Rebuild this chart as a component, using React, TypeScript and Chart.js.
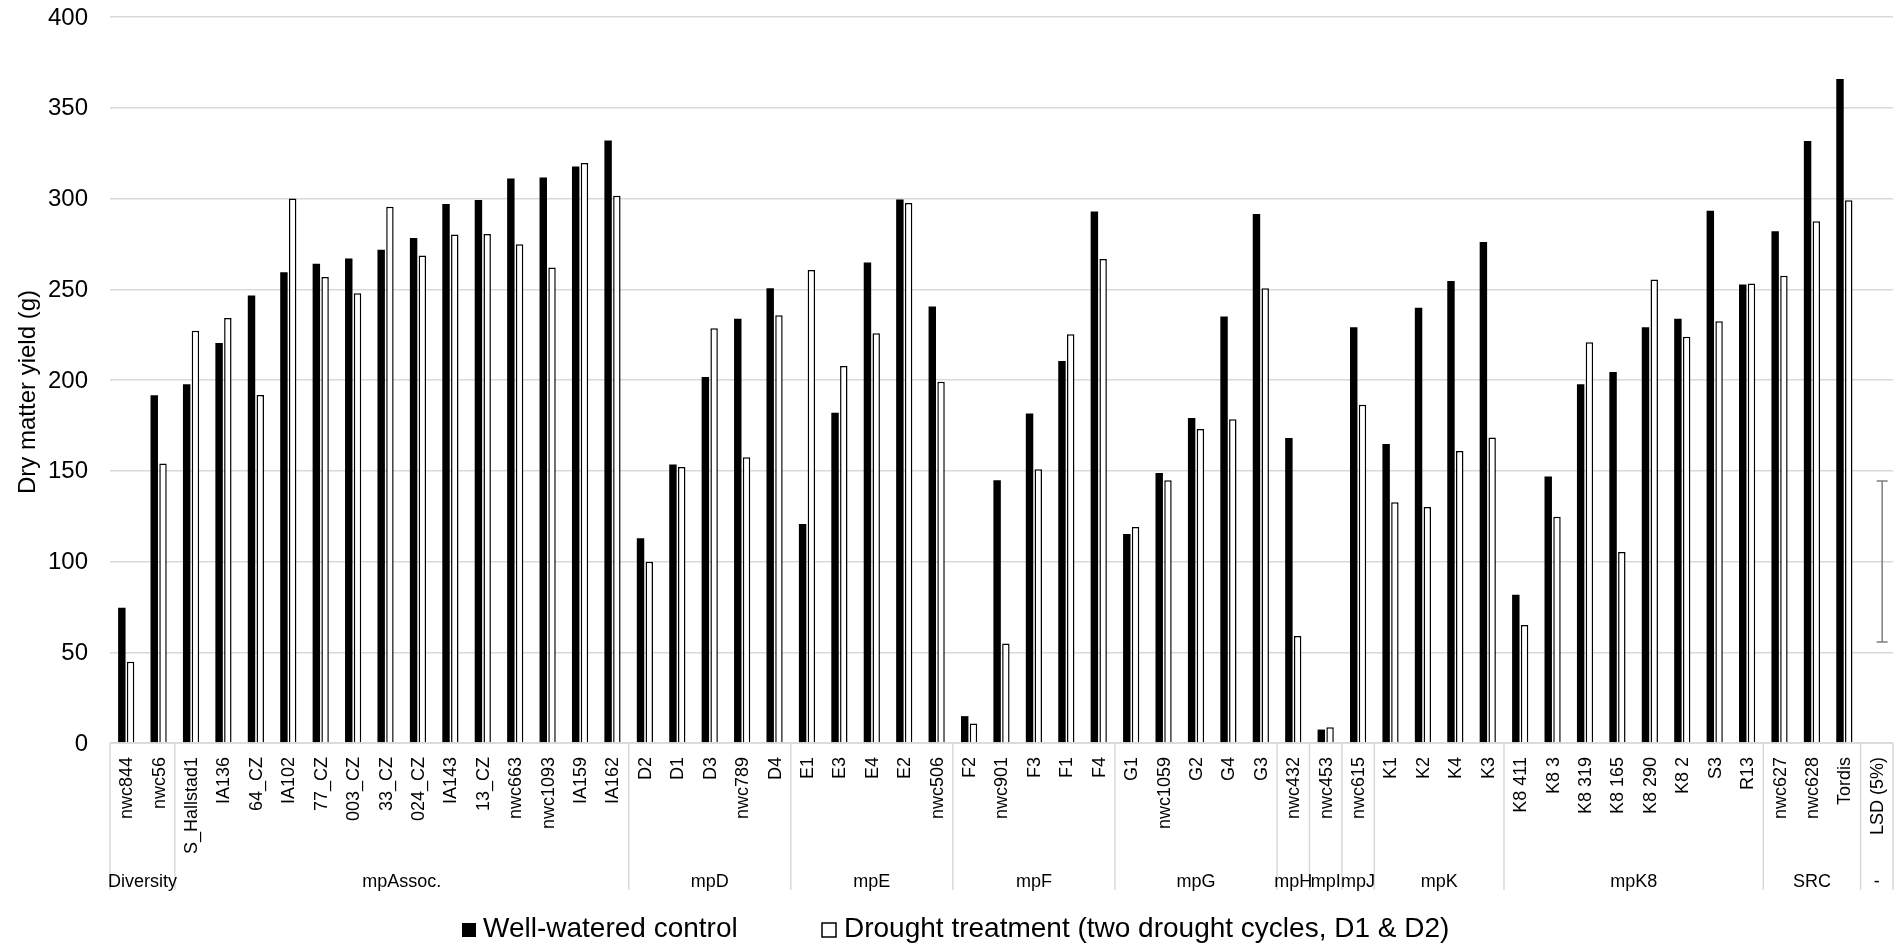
import React, { useEffect, useRef } from "react";
import { Chart, registerables } from "chart.js";

Chart.register(...registerables);

const categories = [
  "nwc844", "nwc56",
  "S_Hallstad1", "IA136", "64_CZ", "IA102", "77_CZ", "003_CZ", "33_CZ", "024_CZ", "IA143", "13_CZ", "nwc663", "nwc1093", "IA159", "IA162",
  "D2", "D1", "D3", "nwc789", "D4",
  "E1", "E3", "E4", "E2", "nwc506",
  "F2", "nwc901", "F3", "F1", "F4",
  "G1", "nwc1059", "G2", "G4", "G3",
  "nwc432",
  "nwc453",
  "nwc615",
  "K1", "K2", "K4", "K3",
  "K8 411", "K8 3", "K8 319", "K8 165", "K8 290", "K8 2", "S3", "R13",
  "nwc627", "nwc628", "Tordis",
  "LSD (5%)",
];

const groupNames = ["Diversity", "mpAssoc.", "mpD", "mpE", "mpF", "mpG", "mpH", "mpI", "mpJ", "mpK", "mpK8", "SRC", "-"];
const groupSizes = [2, 14, 5, 5, 5, 5, 1, 1, 1, 4, 8, 3, 1];

const wellWatered = [
  74.5, 191.6,
  197.7, 220.4, 246.6, 259.3, 264, 267, 271.8, 278.2, 297, 299.2, 311, 311.6, 317.6, 332,
  112.8, 153.4, 201.7, 233.8, 250.6,
  120.6, 182, 264.8, 299.5, 240.5,
  14.8, 144.8, 181.6, 210.4, 292.9,
  115.2, 148.8, 179, 235, 291.5,
  168,
  7.4,
  229,
  164.8, 239.8, 254.6, 276,
  81.7, 146.8, 197.6, 204.4, 229, 233.8, 293.3, 252.6,
  282, 331.7, 365.8,
  null,
];

const drought = [
  44.8, 154,
  227.2, 234.2, 191.8, 300, 256.8, 247.8, 295.4, 268.6, 280.2, 280.4, 274.8, 262, 319.6, 301.5,
  99.8, 152, 228.5, 157.5, 235.7,
  260.6, 207.7, 225.8, 297.5, 199,
  10.8, 54.8, 150.8, 225.2, 266.7,
  119, 144.7, 173, 178.4, 250.6,
  59,
  8.7,
  186.4,
  132.7, 130, 160.9, 168.3,
  65, 124.6, 220.8, 105.2, 255.4, 223.8, 232.4, 253.2,
  257.5, 287.5, 299,
  null,
];

const lsdIndex = 54;
const lsdCenter = 100;
const lsdHalf = 44.4;

const yTicks = [0, 50, 100, 150, 200, 250, 300, 350, 400];

const seriesLabels = ["Well-watered control", "Drought treatment (two drought cycles, D1 & D2)"];
const yTitle = "Dry matter yield (g)";

const FONT = '"Liberation Sans", Arial, sans-serif';
const CAT_PCT = 0.54;
const BAR_PCT = 0.85;

const overlay = {
  id: "overlay",
  afterDraw(chart: any) {
    const { ctx, chartArea } = chart;
    const xs = chart.scales.x;
    const ys = chart.scales.y;
    const n = categories.length;
    const w = (chartArea.right - chartArea.left) / n;
    const bottom = chartArea.bottom;
    ctx.save();

    // axis line
    ctx.strokeStyle = "#d9d9d9";
    ctx.lineWidth = 1.5;
    ctx.beginPath();
    ctx.moveTo(chartArea.left, bottom);
    ctx.lineTo(chartArea.right, bottom);
    ctx.stroke();

    // group separators
    let idx = 0;
    const bounds: number[] = [0];
    groupSizes.forEach((s) => {
      idx += s;
      bounds.push(idx);
    });
    bounds.forEach((b) => {
      const px = b < n ? xs.getPixelForValue(b) - w / 2 : xs.getPixelForValue(n - 1) + w / 2;
      ctx.beginPath();
      ctx.moveTo(px, bottom);
      ctx.lineTo(px, 890);
      ctx.stroke();
    });

    // y tick labels
    ctx.fillStyle = "#000";
    ctx.font = `24px ${FONT}`;
    ctx.textAlign = "right";
    ctx.textBaseline = "middle";
    yTicks.forEach((v) => {
      ctx.fillText(String(v), chartArea.left - 22, ys.getPixelForValue(v) + 1);
    });

    // category labels
    ctx.font = `18px ${FONT}`;
    ctx.textAlign = "right";
    ctx.textBaseline = "middle";
    categories.forEach((c, i) => {
      const px = xs.getPixelForValue(i);
      ctx.save();
      ctx.translate(px + 1, bottom + 14);
      ctx.rotate(-Math.PI / 2);
      ctx.fillText(c, 0, 0);
      ctx.restore();
    });

    // group labels
    ctx.textAlign = "center";
    ctx.textBaseline = "alphabetic";
    let start = 0;
    groupNames.forEach((g, gi) => {
      const s = groupSizes[gi];
      const x0 = xs.getPixelForValue(start) - w / 2;
      const x1 = xs.getPixelForValue(start + s - 1) + w / 2;
      ctx.fillText(g, (x0 + x1) / 2, 886.5);
      start += s;
    });

    // LSD error bar (on drought series slot)
    const ex = xs.getPixelForValue(lsdIndex) + (w * CAT_PCT) / 4 + 1;
    const eTop = ys.getPixelForValue(lsdCenter + lsdHalf);
    const eBot = ys.getPixelForValue(lsdCenter - lsdHalf);
    ctx.strokeStyle = "#7f7f7f";
    ctx.lineWidth = 1.5;
    ctx.beginPath();
    ctx.moveTo(ex, eTop);
    ctx.lineTo(ex, eBot);
    ctx.moveTo(ex - 5.5, eTop);
    ctx.lineTo(ex + 5.5, eTop);
    ctx.moveTo(ex - 5.5, eBot);
    ctx.lineTo(ex + 5.5, eBot);
    ctx.stroke();

    // y title
    ctx.fillStyle = "#000";
    ctx.font = `24px ${FONT}`;
    ctx.textAlign = "center";
    ctx.textBaseline = "alphabetic";
    ctx.save();
    ctx.translate(35, 392);
    ctx.rotate(-Math.PI / 2);
    ctx.fillText(yTitle, 0, 0);
    ctx.restore();

    // legend
    ctx.font = `28px ${FONT}`;
    const box = 14;
    const baseY = 937;
    const item1X = 462;
    const item2X = 822;
    ctx.fillStyle = "#000";
    ctx.fillRect(item1X, baseY - box, box, box);
    ctx.textAlign = "left";
    ctx.fillText(seriesLabels[0], item1X + 21, baseY);
    ctx.strokeStyle = "#000";
    ctx.lineWidth = 1.5;
    ctx.fillStyle = "#fff";
    ctx.fillRect(item2X, baseY - box, box, box);
    ctx.strokeRect(item2X, baseY - box, box, box);
    ctx.fillStyle = "#000";
    ctx.fillText(seriesLabels[1], item2X + 22, baseY);

    ctx.restore();
  },
};

export default function App() {
  const ref = useRef<HTMLCanvasElement | null>(null);
  useEffect(() => {
    if (!ref.current) return;
    const chart = new Chart(ref.current, {
      type: "bar",
      data: {
        labels: categories,
        datasets: [
          {
            label: seriesLabels[0],
            data: wellWatered,
            backgroundColor: "#000",
            borderWidth: 0,
            categoryPercentage: CAT_PCT,
            barPercentage: BAR_PCT,
          },
          {
            label: seriesLabels[1],
            data: drought,
            backgroundColor: "#fff",
            borderColor: "#000",
            borderWidth: 1.5,
            categoryPercentage: CAT_PCT,
            barPercentage: BAR_PCT,
          },
        ],
      },
      options: {
        responsive: false,
        animation: false,
        layout: { padding: { top: 17, right: 11, bottom: 202, left: 0 } },
        plugins: {
          legend: { display: false },
          tooltip: { enabled: false },
          title: { display: false },
        },
        scales: {
          x: {
            ticks: { display: false },
            grid: { display: false },
            border: { display: false },
            afterFit: (s: any) => {
              s.height = 0;
              s.paddingTop = 0;
              s.paddingBottom = 0;
            },
          },
          y: {
            min: 0,
            max: 400,
            afterFit: (s: any) => {
              s.width = 110;
              s.paddingTop = 0;
              s.paddingBottom = 0;
            },
            afterBuildTicks: (s: any) => {
              s.ticks = yTicks.map((v) => ({ value: v }));
            },
            ticks: { display: false },
            grid: { color: "#d9d9d9", lineWidth: 1.5, drawTicks: false },
            border: { display: false },
          },
        },
      },
      plugins: [overlay],
    });
    return () => chart.destroy();
  }, []);
  return (
    <div style={{ position: "absolute", left: 0, top: 0, width: 1904, height: 945 }}>
      <canvas ref={ref} width={1904} height={945} style={{ display: "block" }} />
    </div>
  );
}
